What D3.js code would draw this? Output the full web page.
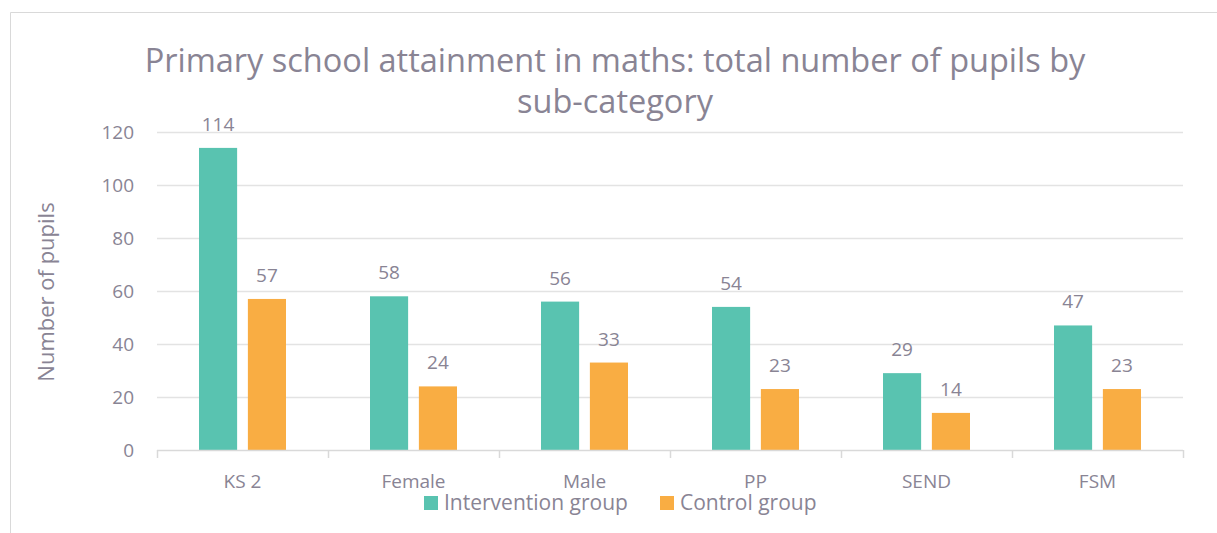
<!DOCTYPE html>
<html>
<head>
<meta charset="utf-8">
<script src="https://cdn.jsdelivr.net/npm/d3@7"></script>
<style>
  body { margin: 0; background: #fff; }
  svg text { font-family: "Open Sans", "Noto Sans", sans-serif; fill: #898494; }
</style>
</head>
<body>
<div id="chart"></div>
<script>
const categories = ["KS 2", "Female", "Male", "PP", "SEND", "FSM"];
const seriesNames = ["Intervention group", "Control group"];
const intervention = [114, 58, 56, 54, 29, 47];
const control = [57, 24, 33, 23, 14, 23];
const yTicks = [0, 20, 40, 60, 80, 100, 120];
const colors = ["#59c3b0", "#f9ad43"];

const W = 1217, H = 533;
const margin = {top: 132, right: 34, bottom: 83, left: 157};
const width = W - margin.left - margin.right;
const height = H - margin.top - margin.bottom;

const svg = d3.select("#chart").append("svg")
  .attr("width", W).attr("height", H);

// chart border
svg.append("path")
  .attr("d", "M10.5," + H + "V12.5H" + W)
  .attr("fill", "none").attr("stroke", "#d9d9d9");

const g = svg.append("g")
  .attr("transform", "translate(" + margin.left + "," + margin.top + ")");

const x0 = d3.scaleBand().domain(categories).range([0, width]);
const x1 = d3.scaleBand().domain(seriesNames).range([42, x0.bandwidth() - 42]).paddingInner(0.22);
const y = d3.scaleLinear().domain([0, 120]).range([height, 0]);

// gridlines
g.append("g")
  .selectAll("line").data(yTicks.filter(d => d > 0)).join("line")
  .attr("x1", 0).attr("x2", width)
  .attr("y1", d => Math.round(y(d)) + 0.5).attr("y2", d => Math.round(y(d)) + 0.5)
  .attr("stroke", "#e3e3e3").attr("stroke-width", 1.5);

// y labels
g.append("g")
  .selectAll("text").data(yTicks).join("text")
  .attr("x", -23).attr("y", d => y(d))
  .attr("dy", "0.35em")
  .attr("text-anchor", "end")
  .style("font-size", "19px")
  .text(d => d);

// bars
const groups = g.selectAll("g.cat").data(categories).join("g")
  .attr("class", "cat")
  .attr("transform", d => "translate(" + x0(d) + ",0)");

const rows = (c, i) => [
  {name: seriesNames[0], value: intervention[i]},
  {name: seriesNames[1], value: control[i]}
];

groups.each(function(c, i) {
  const sel = d3.select(this);
  sel.selectAll("rect").data(rows(c, i)).join("rect")
    .attr("x", d => x1(d.name))
    .attr("width", x1.bandwidth())
    .attr("y", d => y(d.value))
    .attr("height", d => height - y(d.value))
    .attr("fill", (d, j) => colors[j]);
  sel.selectAll("text").data(rows(c, i)).join("text")
    .attr("x", d => x1(d.name) + x1.bandwidth() / 2)
    .attr("y", d => y(d.value) - 17)
    .attr("text-anchor", "middle")
    .style("font-size", "19px")
    .text(d => d.value);
});

// x axis
const xAxis = g.append("g")
  .attr("transform", "translate(0," + height + ")");
xAxis.append("line")
  .attr("x1", 0).attr("x2", width).attr("y1", 0.5).attr("y2", 0.5)
  .attr("stroke", "#d9d9d9").attr("stroke-width", 1.5);
xAxis.selectAll("line.tick").data(d3.range(categories.length + 1)).join("line")
  .attr("class", "tick")
  .attr("x1", i => Math.round(i * x0.step()) + 0.5)
  .attr("x2", i => Math.round(i * x0.step()) + 0.5)
  .attr("y1", 0).attr("y2", 8)
  .attr("stroke", "#d9d9d9").attr("stroke-width", 1.5);
xAxis.selectAll("text").data(categories).join("text")
  .attr("x", d => x0(d) + x0.bandwidth() / 2)
  .attr("y", 38)
  .attr("text-anchor", "middle")
  .style("font-size", "19px")
  .text(d => d);

// y axis title
svg.append("text")
  .attr("transform", "translate(54,292) rotate(-90)")
  .attr("text-anchor", "middle")
  .style("font-size", "22px")
  .text("Number of pupils");

// title
const title = svg.append("text")
  .attr("text-anchor", "middle")
  .style("font-size", "32.5px");
title.append("tspan").attr("x", 615).attr("y", 72)
  .text("Primary school attainment in maths: total number of pupils by");
title.append("tspan").attr("x", 615).attr("y", 113)
  .text("sub-category");

// legend
const legend = svg.append("g");
const legendX = [424, 660];
seriesNames.forEach((s, i) => {
  legend.append("rect")
    .attr("x", legendX[i]).attr("y", 496)
    .attr("width", 14).attr("height", 14)
    .attr("fill", colors[i]);
  legend.append("text")
    .attr("x", legendX[i] + 20).attr("y", 510)
    .style("font-size", "21px")
    .text(s);
});
</script>
</body>
</html>
